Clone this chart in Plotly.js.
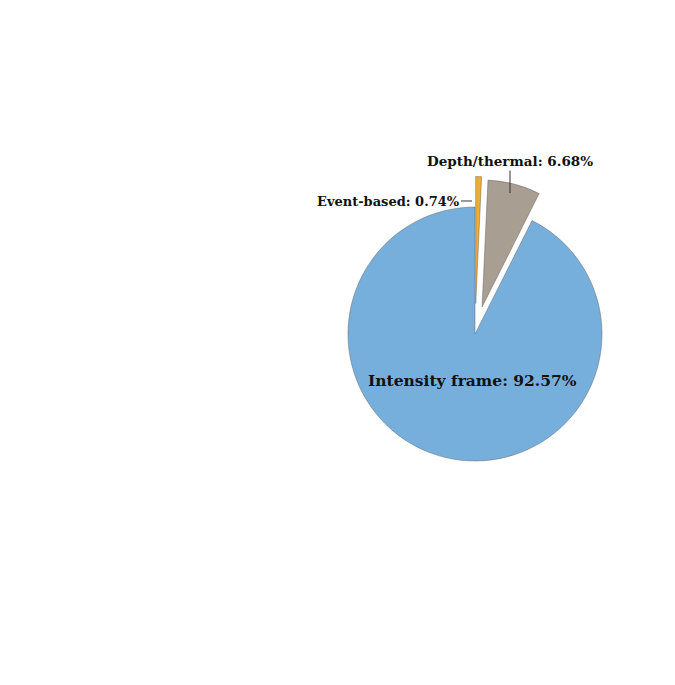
<!DOCTYPE html>
<html>
<head>
<meta charset="utf-8">
<script src="https://cdn.plot.ly/plotly-3.0.1.min.js"></script>
<style>
  body { margin: 0; background: #fff; }
  #chart { width: 675px; height: 685px; }
</style>
</head>
<body>
<div id="chart"></div>
<script>
// slice data, clockwise from 12 o'clock
const labels = ['Event-based', 'Depth/thermal', 'Intensity frame'];
const values = [0.74, 6.68, 92.57];
const colors = ['#efab3a', '#a99e92', '#77afdc'];
const pulls = [0.24, 0.22, 0];

const W = 675, H = 685;
const font = 'DejaVu Serif, Liberation Serif, serif';

function pct(v) { return v.toFixed(2) + '%'; }
function px(x) { return x / W; }
function py(y) { return 1 - y / H; }

// pie box: radius 127 plus room for the biggest pull
let half = 127 * 1.24;

let trace = {
  type: 'pie',
  labels: labels,
  values: values,
  sort: false,
  direction: 'clockwise',
  rotation: 0,
  pull: pulls,
  marker: {
    colors: colors,
    line: {color: 'rgba(90,90,90,0.45)', width: 1}
  },
  textinfo: 'none',
  hoverinfo: 'label+percent',
  showlegend: false,
  domain: {x: [px(475 - half), px(475 + half)], y: [py(334 + half), py(334 - half)]}
};

// label placement (text offsets in px)
let annotations = [
  {
    x: px(472), y: py(201), xref: 'paper', yref: 'paper',
    text: '<b>' + labels[0] + ': ' + pct(values[0]) + '</b>',
    showarrow: true, arrowhead: 0, arrowwidth: 1, arrowcolor: '#333',
    ax: -84, ay: 0, standoff: 0,
    font: {family: font, size: 13, color: '#111'}
  },
  {
    x: px(510), y: py(193), xref: 'paper', yref: 'paper',
    text: '<b>' + labels[1] + ': ' + pct(values[1]) + '</b>',
    showarrow: true, arrowhead: 0, arrowwidth: 1, arrowcolor: '#333',
    ax: 0, ay: -32, standoff: 0,
    font: {family: font, size: 13.5, color: '#111'}
  },
  {
    x: px(472), y: py(380), xref: 'paper', yref: 'paper',
    xanchor: 'center', yanchor: 'middle',
    text: '<b>' + labels[2] + ': ' + pct(values[2]) + '</b>',
    showarrow: false,
    font: {family: font, size: 15.5, color: '#111'}
  }
];

let layout = {
  width: W,
  height: H,
  margin: {l: 0, r: 0, t: 0, b: 0},
  paper_bgcolor: '#fff',
  annotations: annotations
};

Plotly.newPlot('chart', [trace], layout, {displayModeBar: false});
</script>
</body>
</html>
